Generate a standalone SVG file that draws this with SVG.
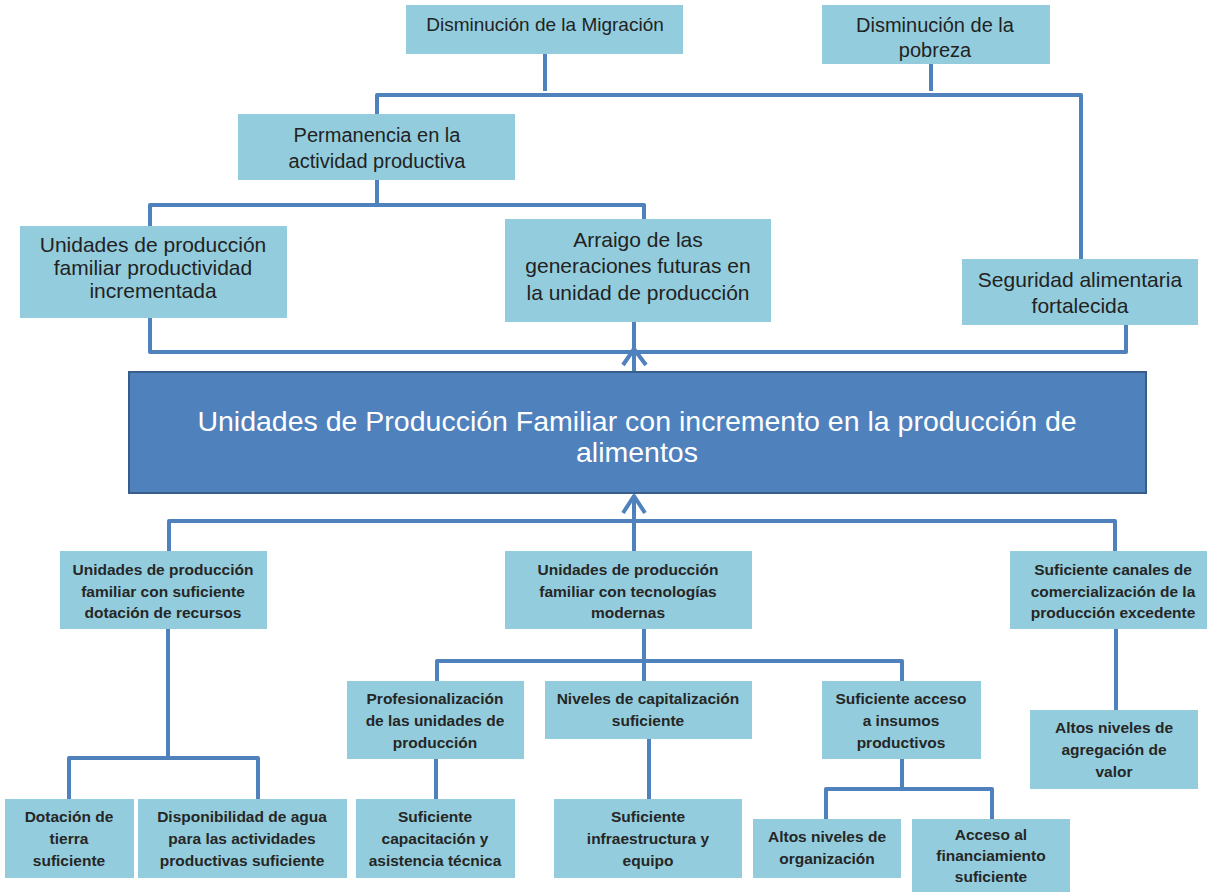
<svg xmlns="http://www.w3.org/2000/svg" width="1207" height="892" viewBox="0 0 1207 892">
<style>
.box{fill:#93CDDD;}
.main{fill:#4F81BD;stroke:#385D8A;stroke-width:2;}
.t{font-family:"Liberation Sans",Arial,sans-serif;font-size:21px;fill:#222;text-anchor:middle;}
.s{font-size:19px;}
.p{font-size:20px;}
.b{font-family:"Liberation Sans",Arial,sans-serif;font-size:15.5px;font-weight:bold;fill:#262626;text-anchor:middle;}
.m{font-family:"Liberation Sans",Arial,sans-serif;font-size:28.5px;fill:#fff;text-anchor:middle;}
.c{fill:none;stroke:#4F81BD;stroke-width:4;stroke-linejoin:round;}
</style>
<rect width="1207" height="892" fill="#fff"/>
<g id="connectors">
<path class="c" d="M545 54 V91"/>
<path class="c" d="M931 64 V91"/>
<path class="c" d="M377 114 V95 H1081 V259"/>
<path class="c" d="M377 180 V205"/>
<path class="c" d="M150 226 V205 H644 V219"/>
<path class="c" d="M150 318 V352 H1126 V325"/>
<path class="c" d="M634 322 V372"/>
<path class="c" d="M623 365 L634 349 L646 365"/>
<path class="c" d="M634 551 V495"/>
<path class="c" d="M623 513 L634 496 L645 513"/>
<path class="c" d="M169 551 V521 H1115 V551"/>
<path class="c" d="M644 629 V681"/>
<path class="c" d="M437 681 V661 H902 V681"/>
<path class="c" d="M168 629 V758"/>
<path class="c" d="M69 799 V758 H258 V799"/>
<path class="c" d="M436 759 V799"/>
<path class="c" d="M649 739 V799"/>
<path class="c" d="M902 759 V789"/>
<path class="c" d="M826 819 V789 H992 V819"/>
<path class="c" d="M1116 629 V710"/>
</g>
<g id="n-migracion"><rect class="box" x="406" y="5" width="277" height="49"/><text class="t s" x="545" y="31">Disminución de la Migración</text></g>
<g id="n-pobreza"><rect class="box" x="822" y="5" width="228" height="59"/><text class="t p" x="935" y="32">Disminución de la</text><text class="t p" x="935" y="57">pobreza</text></g>
<g id="n-permanencia"><rect class="box" x="238" y="114" width="277" height="66"/><text class="t p" x="377" y="142">Permanencia en la</text><text class="t p" x="377" y="168">actividad productiva</text></g>
<g id="n-productividad"><rect class="box" x="20" y="226" width="267" height="92"/><text class="t" x="153" y="252">Unidades de producción</text><text class="t" x="153" y="275">familiar productividad</text><text class="t" x="153" y="298">incrementada</text></g>
<g id="n-arraigo"><rect class="box" x="505" y="219" width="266" height="103"/><text class="t" x="638" y="247">Arraigo de las</text><text class="t" x="638" y="273">generaciones futuras en</text><text class="t" x="638" y="300">la unidad de producción</text></g>
<g id="n-seguridad"><rect class="box" x="962" y="259" width="236" height="66"/><text class="t" x="1080" y="287">Seguridad alimentaria</text><text class="t" x="1080" y="313">fortalecida</text></g>
<g id="n-main"><rect class="main" x="129" y="372" width="1017" height="121"/><text class="m" x="637" y="431">Unidades de Producción Familiar con incremento en la producción de</text><text class="m" x="637" y="462">alimentos</text></g>
<g id="n-recursos"><rect class="box" x="60" y="551" width="207" height="78"/><text class="b" x="163" y="575">Unidades de producción</text><text class="b" x="163" y="597">familiar con suficiente</text><text class="b" x="163" y="618">dotación de recursos</text></g>
<g id="n-tecnologias"><rect class="box" x="505" y="551" width="247" height="78"/><text class="b" x="628" y="575">Unidades de producción</text><text class="b" x="628" y="597">familiar con tecnologías</text><text class="b" x="628" y="618">modernas</text></g>
<g id="n-canales"><rect class="box" x="1010" y="551" width="197" height="78"/><text class="b" x="1113" y="575">Suficiente canales de</text><text class="b" x="1113" y="597">comercialización de la</text><text class="b" x="1113" y="618">producción excedente</text></g>
<g id="n-profesionalizacion"><rect class="box" x="347" y="681" width="177" height="78"/><text class="b" x="435" y="704">Profesionalización</text><text class="b" x="435" y="726">de las unidades de</text><text class="b" x="435" y="748">producción</text></g>
<g id="n-capitalizacion"><rect class="box" x="545" y="681" width="207" height="58"/><text class="b" x="648" y="704">Niveles de capitalización</text><text class="b" x="648" y="726">suficiente</text></g>
<g id="n-insumos"><rect class="box" x="822" y="681" width="159" height="78"/><text class="b" x="901" y="704">Suficiente acceso</text><text class="b" x="901" y="726">a insumos</text><text class="b" x="901" y="748">productivos</text></g>
<g id="n-agregacion"><rect class="box" x="1030" y="710" width="168" height="79"/><text class="b" x="1114" y="733">Altos niveles de</text><text class="b" x="1114" y="755">agregación de</text><text class="b" x="1114" y="777">valor</text></g>
<g id="n-tierra"><rect class="box" x="5" y="799" width="129" height="79"/><text class="b" x="69" y="822">Dotación de</text><text class="b" x="69" y="844">tierra</text><text class="b" x="69" y="866">suficiente</text></g>
<g id="n-agua"><rect class="box" x="138" y="799" width="209" height="79"/><text class="b" x="242" y="822">Disponibilidad de agua</text><text class="b" x="242" y="844">para las actividades</text><text class="b" x="242" y="866">productivas suficiente</text></g>
<g id="n-capacitacion"><rect class="box" x="356" y="799" width="159" height="79"/><text class="b" x="435" y="822">Suficiente</text><text class="b" x="435" y="844">capacitación y</text><text class="b" x="435" y="866">asistencia técnica</text></g>
<g id="n-infraestructura"><rect class="box" x="554" y="799" width="188" height="79"/><text class="b" x="648" y="822">Suficiente</text><text class="b" x="648" y="844">infraestructura y</text><text class="b" x="648" y="866">equipo</text></g>
<g id="n-organizacion"><rect class="box" x="753" y="819" width="148" height="59"/><text class="b" x="827" y="842">Altos niveles de</text><text class="b" x="827" y="864">organización</text></g>
<g id="n-financiamiento"><rect class="box" x="912" y="819" width="158" height="73"/><text class="b" x="991" y="840">Acceso al</text><text class="b" x="991" y="861">financiamiento</text><text class="b" x="991" y="882">suficiente</text></g>
</svg>
